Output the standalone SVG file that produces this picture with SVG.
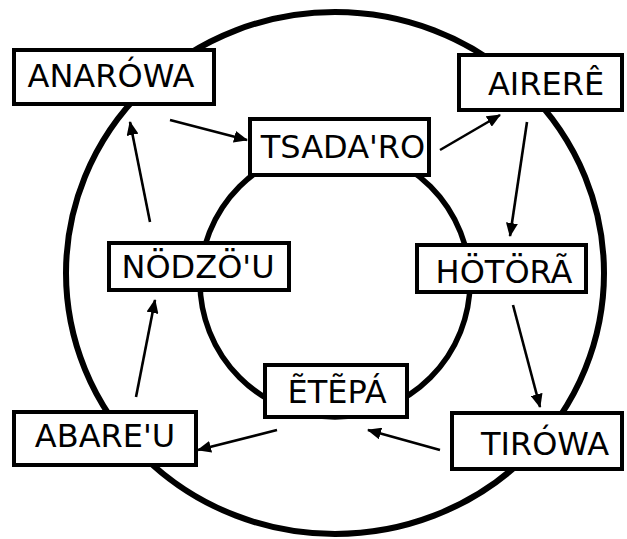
<svg xmlns="http://www.w3.org/2000/svg" width="627" height="539" viewBox="0 0 627 539">
  <style>
    .ring { fill: none; stroke: #000; }
    .box rect { fill: #fff; stroke: #000; stroke-width: 4; }
    .box text { font-family: "DejaVu Sans", "Liberation Sans", sans-serif; font-size: 32px; fill: #000; text-anchor: middle; }
    .edge { stroke: #000; stroke-width: 2.6; fill: none; marker-end: url(#head); }
  </style>
  <defs>
    <marker id="head" markerUnits="userSpaceOnUse" markerWidth="14" markerHeight="12" refX="13" refY="6" orient="auto">
      <path d="M0,0 L14,6 L0,12 Z" fill="#000"/>
    </marker>
  </defs>

  <!-- two concentric rings -->
  <ellipse class="ring" cx="335" cy="273" rx="269" ry="261" stroke-width="6"/>
  <circle class="ring" cx="335" cy="282" r="135" stroke-width="5.5"/>

  <g id="connectors">
    <line class="edge" x1="170" y1="120" x2="247" y2="140"/>
    <line class="edge" x1="440" y1="150" x2="500" y2="115"/>
    <line class="edge" x1="527" y1="122" x2="510" y2="236"/>
    <line class="edge" x1="513" y1="305" x2="540" y2="407"/>
    <line class="edge" x1="440" y1="450" x2="368" y2="430"/>
    <line class="edge" x1="277" y1="430" x2="198" y2="450"/>
    <line class="edge" x1="136" y1="397" x2="155" y2="300"/>
    <line class="edge" x1="150" y1="222" x2="130" y2="122"/>
  </g>

  <g id="anarowa" class="box">
    <rect x="14" y="50" width="200" height="54"/>
    <text x="111" y="87">ANARÓWA</text>
  </g>
  <g id="tsadaro" class="box">
    <rect x="250" y="119" width="179" height="56"/>
    <text x="343" y="158">TSADA'RO</text>
  </g>
  <g id="airere" class="box">
    <rect x="459" y="55" width="163" height="55"/>
    <text x="546" y="95">AIRERÊ</text>
  </g>
  <g id="nodzou" class="box">
    <rect x="109" y="243" width="180" height="47"/>
    <text x="198" y="278">NÖDZÖ'U</text>
  </g>
  <g id="hotora" class="box">
    <rect x="417" y="245" width="169" height="47"/>
    <text x="504" y="283">HÖTÖRÃ</text>
  </g>
  <g id="etepa" class="box">
    <rect x="265" y="365" width="142" height="52"/>
    <text x="337" y="403">ẼTẼPÁ</text>
  </g>
  <g id="abareu" class="box">
    <rect x="14" y="412" width="182" height="53"/>
    <text x="105" y="447">ABARE'U</text>
  </g>
  <g id="tirowa" class="box">
    <rect x="452" y="413" width="170" height="56"/>
    <text x="545" y="455">TIRÓWA</text>
  </g>
</svg>
